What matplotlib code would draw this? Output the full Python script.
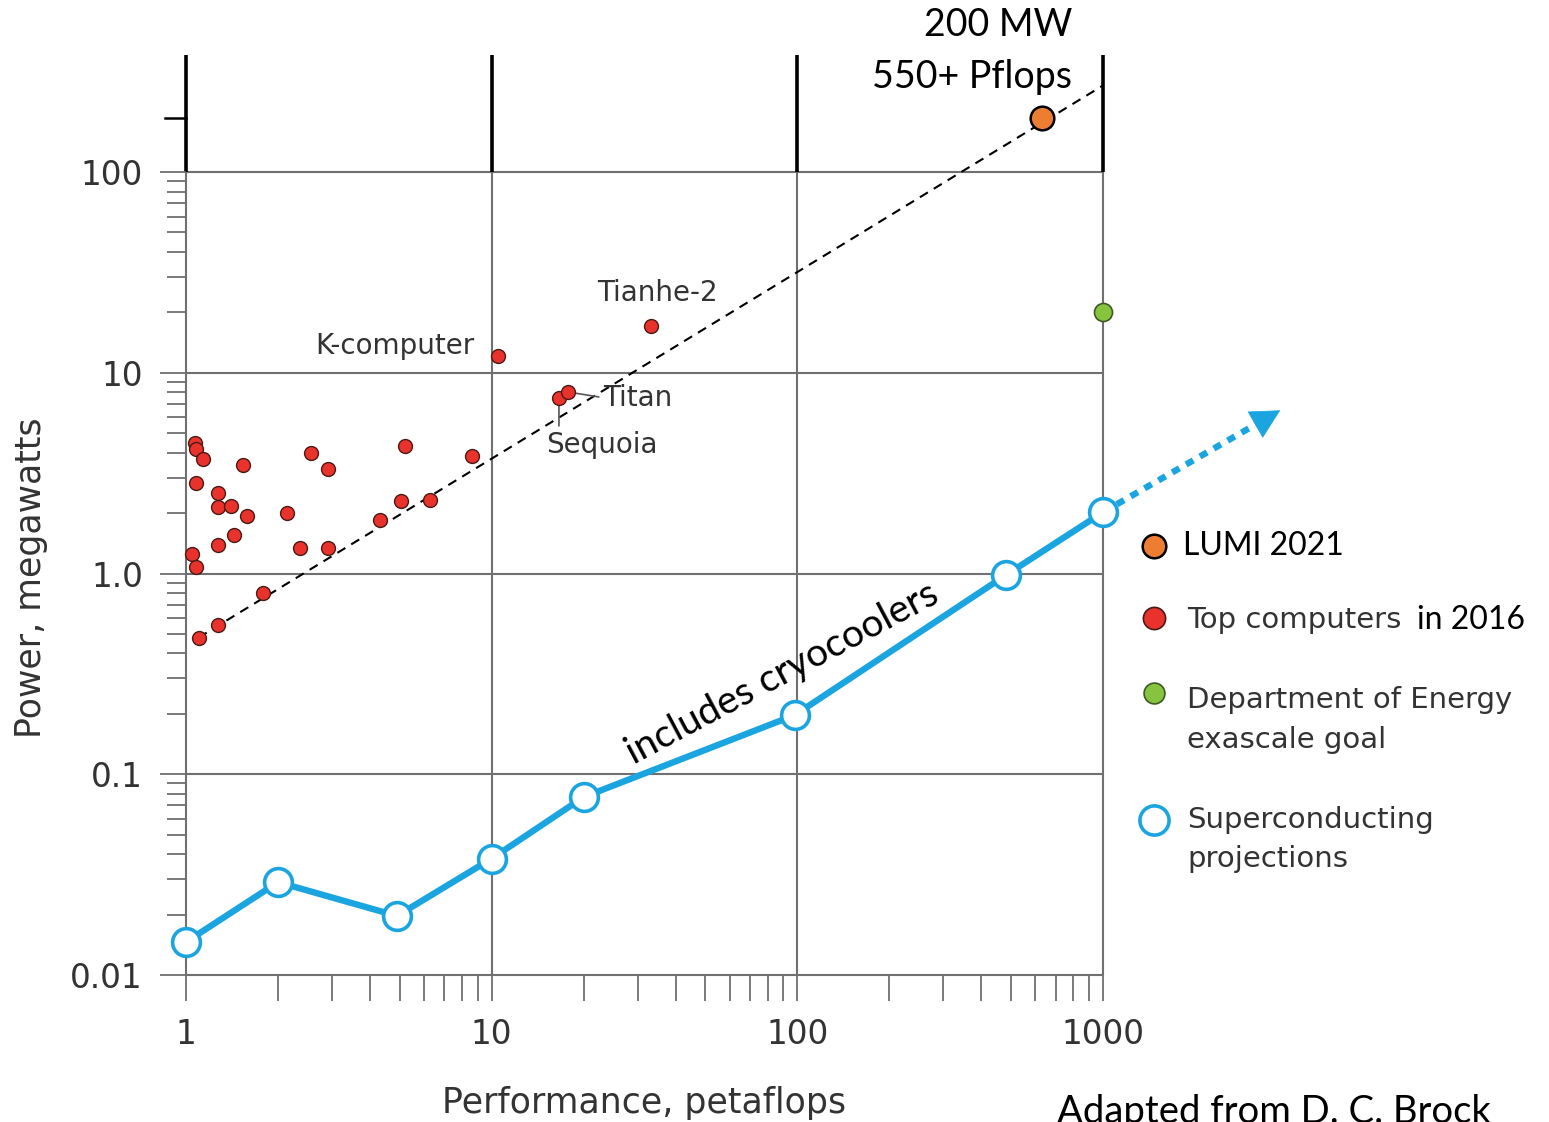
import numpy as np
import matplotlib
matplotlib.use('Agg')
from matplotlib import pyplot as plt
from matplotlib import transforms
from matplotlib.lines import Line2D
from matplotlib.ticker import FixedLocator, NullFormatter

# top computers in 2016: performance (petaflops) and power (megawatts)
top_pf = [1.07, 1.08, 1.14, 1.08, 1.27, 1.27, 1.40, 1.58, 1.44, 1.27, 1.05, 1.08, 1.54,
          1.27, 1.10, 1.79, 2.56, 2.91, 2.14, 2.36, 2.91, 5.2, 5.05, 4.31, 6.29, 8.62,
          10.5, 16.6, 17.8, 33.2]
top_mw = [4.47, 4.17, 3.72, 2.82, 2.52, 2.14, 2.17, 1.93, 1.56, 1.39, 1.25, 1.08, 3.47,
          0.553, 0.477, 0.80, 3.98, 3.32, 2.0, 1.34, 1.34, 4.32, 2.30, 1.85, 2.32, 3.85,
          12.1, 7.48, 8.02, 17.1]
named = {"K-computer": 26, "Sequoia": 27, "Titan": 28, "Tianhe-2": 29}

# superconducting projections
sc_pf = [1, 2.0, 4.9, 10, 20, 98, 480, 1000]
sc_mw = [0.0146, 0.029, 0.0197, 0.038, 0.077, 0.197, 0.98, 2.02]
sc_ext_pf = [1000, 3800]
sc_ext_mw = [2.02, 6.5]

lumi_pf, lumi_mw = [630], [185]
doe_pf, doe_mw = [1000], [20]
trend_pf = [1.1, 1000]
trend_mw = [0.48, 270]

x_major = [1, 10, 100, 1000]
x_labels = ["1", "10", "100", "1000"]
y_major = [0.01, 0.1, 1, 10, 100]
y_labels = ["0.01", "0.1", "1.0", "10", "100"]

BLUE = '#1ba5e0'
RED = '#e8322b'
ORANGE = '#ed7d31'
GREEN = '#86c440'
GRID = '#707070'
TXT = '#333333'
calibri = ['Lato', 'DejaVu Sans']
plt.rcParams['font.family'] = ['DejaVu Sans']

W, H = 1549, 1122
fig = plt.figure(figsize=(W / 100, H / 100), dpi=100)
ax = fig.add_axes([186 / W, 1 - 975 / H, (1103 - 186) / W, (975 - 55) / H])
ax.set_xscale('log')
ax.set_yscale('log')
ax.set_xlim(1, 1000)
ax.set_ylim(0.01, 383)
for s in ax.spines.values():
    s.set_visible(False)

# grid / frame
ax.hlines(y_major, 1, 1000, color=GRID, lw=1.5, zorder=1, clip_on=False)
ax.vlines(x_major, 0.01, 100, color=GRID, lw=1.5, zorder=1, clip_on=False)
ax.vlines(x_major, 100, 383, color='black', lw=2.6, zorder=1, clip_on=False)
blend = transforms.blended_transform_factory(ax.transAxes, ax.transData)
ax.plot([-0.023, 0], [lumi_mw[0]] * 2, color='black', lw=1.8, transform=blend, clip_on=False)

# ticks
ax.xaxis.set_major_locator(FixedLocator(x_major))
ax.set_xticklabels(x_labels)
ax.yaxis.set_major_locator(FixedLocator(y_major))
ax.set_yticklabels(y_labels)
ax.xaxis.set_minor_locator(FixedLocator([m * 10 ** e for e in range(0, 3) for m in range(2, 10)]))
ax.yaxis.set_minor_locator(FixedLocator([m * 10 ** e for e in range(-2, 2) for m in range(2, 10)]))
ax.xaxis.set_minor_formatter(NullFormatter())
ax.yaxis.set_minor_formatter(NullFormatter())
ax.tick_params(which='both', direction='out', color=GRID, width=1.3, labelcolor=TXT,
               labelsize=23.5, pad=12)
ax.tick_params(axis='x', which='both', length=19)
ax.tick_params(axis='y', which='major', length=19)
ax.tick_params(axis='y', which='minor', length=14)

ax.set_xlabel("Performance, petaflops", fontsize=25, color=TXT)
ax.set_ylabel("Power, megawatts", fontsize=25, color=TXT)
ax.yaxis.set_label_coords(-0.1505, 0.4315)
ax.xaxis.set_label_coords(0.5, -0.1207)

# trend line through top computers
ax.plot(trend_pf, trend_mw, color='black', lw=1.5, ls=(0, (4.5, 3.3)), zorder=3, clip_on=False)

# top computers
ax.plot(top_pf, top_mw, 'o', ms=10, mfc=RED, mec='#4a1a15', mew=1, zorder=4, clip_on=False)
for name, i in named.items():
    p = (top_pf[i], top_mw[i])
    kw = dict(fontsize=20, color=TXT, textcoords='offset points', va='center')
    if name == "K-computer":
        ax.annotate(name, p, xytext=(-17, 7), ha='right', **kw)
    elif name == "Tianhe-2":
        ax.annotate(name, p, xytext=(5, 24), ha='center', **kw)
    elif name == "Titan":
        ax.annotate(name, p, xytext=(25, -4), ha='left',
                    arrowprops=dict(arrowstyle='-', color='#555555', lw=1.2, relpos=(0, 0.5),
                                    shrinkA=1, shrinkB=3), **kw)
    else:
        ax.annotate(name, p, xytext=(31, -34), ha='center', **kw)
        ax.annotate('', p, xytext=(0, -20), textcoords='offset points',
                    arrowprops=dict(arrowstyle='-', color='#555555', lw=1.2, shrinkA=0, shrinkB=3))

# superconducting projections
ax.plot(sc_pf, sc_mw, '-', color=BLUE, lw=4.6, zorder=5, clip_on=False)
lx, ly = np.log10(sc_ext_pf), np.log10(sc_ext_mw)
base = (10 ** (lx[1] - 0.075 * (lx[1] - lx[0])), 10 ** (ly[1] - 0.075 * (ly[1] - ly[0])))
ax.plot([sc_ext_pf[0], base[0]], [sc_ext_mw[0], base[1]], color=BLUE, lw=4.6,
        ls=(0, (1.3, 1.2)), zorder=5, clip_on=False)
ax.annotate('', xy=(sc_ext_pf[1], sc_ext_mw[1]), xytext=base, annotation_clip=False,
            arrowprops=dict(arrowstyle='-|>,head_length=0.8,head_width=0.42', color=BLUE,
                            lw=0.5, shrinkA=0, shrinkB=0, mutation_scale=25), zorder=5)
ax.plot(sc_pf, sc_mw, 'o', ms=20, mfc='white', mec=BLUE, mew=2.6, zorder=6, clip_on=False)
ax.text(93, 0.283, "includes cryocoolers", fontsize=28, family=calibri, rotation=28,
        rotation_mode='anchor', ha='center', va='baseline', zorder=7)

# LUMI and DOE goal
ax.plot(lumi_pf, lumi_mw, 'o', ms=17, mfc=ORANGE, mec='black', mew=1.8, zorder=6, clip_on=False)
ax.plot(doe_pf, doe_mw, 'o', ms=13, mfc=GREEN, mec='#3d5a25', mew=1.2, zorder=6, clip_on=False)
fig.text(1072 / W, 1 - 25 / H, "200 MW", fontsize=27, family=calibri, ha='right', va='center')
fig.text(1072 / W, 1 - 77 / H, "550+ Pflops", fontsize=27, family=calibri, ha='right', va='center')

# legend drawn by hand
legend = [
    (546, dict(ms=17, mfc=ORANGE, mec='black', mew=1.8), [(1183, 546, "LUMI 2021", True)]),
    (618, dict(ms=16, mfc=RED, mec='#4a1a15', mew=1.2), [(1187, 620, "Top computers", False),
                                                       (1417, 620, "in 2016", True)]),
    (693, dict(ms=15, mfc=GREEN, mec='#3d5a25', mew=1.2), [(1187, 700, "Department of Energy", False),
                                                          (1187, 740, "exascale goal", False)]),
    (820, dict(ms=21, mfc='white', mec=BLUE, mew=2.6), [(1187, 820, "Superconducting", False),
                                                       (1187, 859, "projections", False)]),
]
for my, mk, texts in legend:
    fig.add_artist(Line2D([1154 / W], [1 - my / H], marker='o', ls='none',
                          transform=fig.transFigure, **mk))
    for tx, ty, t, cal in texts:
        if cal:
            fig.text(tx / W, 1 - ty / H, t, fontsize=23, family=calibri, va='center')
        else:
            fig.text(tx / W, 1 - ty / H, t, fontsize=21, color=TXT, va='center')

fig.text(1057 / W, 1 - 1094 / H, "Adapted from D. C. Brock", fontsize=27.5, family=calibri, va='top')

fig.savefig("out.png", dpi=100)
